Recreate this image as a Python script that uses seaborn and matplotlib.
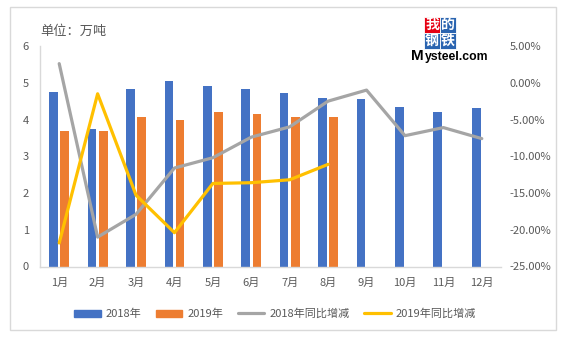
import matplotlib
matplotlib.use("Agg")
import matplotlib.pyplot as plt
import matplotlib.patches as mpatches
from matplotlib.lines import Line2D
from matplotlib.ticker import FuncFormatter, MultipleLocator
import seaborn as sns
import pandas as pd
import numpy as np

# ---- data ----
months = ["1月", "2月", "3月", "4月", "5月", "6月", "7月", "8月", "9月", "10月", "11月", "12月"]
prod_2018 = [4.74, 3.74, 4.82, 5.04, 4.90, 4.82, 4.71, 4.59, 4.55, 4.33, 4.20, 4.31]
prod_2019 = [3.70, 3.70, 4.07, 4.00, 4.21, 4.16, 4.08, 4.08]
yoy_2018 = [2.6, -21.0, -17.9, -11.6, -10.2, -7.4, -6.0, -2.5, -1.0, -7.2, -6.1, -7.6]
yoy_2019 = [-21.8, -1.5, -15.3, -20.4, -13.7, -13.6, -13.2, -11.1]
series_names = ["2018年", "2019年", "2018年同比增减", "2019年同比增减"]
title_text = "单位：万吨"

C_BLUE = "#4472c4"
C_ORANGE = "#ed7d31"
C_GRAY = "#a5a5a5"
C_YELLOW = "#ffc000"
C_TEXT = "#595959"

sns.set_theme(style="white")
plt.rcParams["font.family"] = ["Noto Sans CJK SC", "DejaVu Sans"]

rows = []
for m, v in zip(months, prod_2018):
    rows.append({"month": m, "year": series_names[0], "value": v})
for m, v in zip(months, prod_2019):
    rows.append({"month": m, "year": series_names[1], "value": v})
df = pd.DataFrame(rows)

W, H = 567, 339
fig = plt.figure(figsize=(W / 100, H / 100), dpi=100)
ax = fig.add_axes([40 / W, 1 - 266.5 / H, (501 - 40) / W, (266.5 - 46) / H])

sns.barplot(data=df, x="month", y="value", hue="year", order=months,
            hue_order=series_names[:2], palette=[C_BLUE, C_ORANGE],
            width=0.58, gap=0.22, ax=ax, legend=False, saturation=1, linewidth=0)

ax.set_ylim(0, 6)
ax.set_xlim(-0.5, 11.5)
ax.yaxis.set_major_locator(MultipleLocator(1))
ax.set_xlabel("")
ax.set_ylabel("")
for s in ["top", "right"]:
    ax.spines[s].set_visible(False)
for s in ["left", "bottom"]:
    ax.spines[s].set_color("#d9d9d9")
    ax.spines[s].set_linewidth(1)
ax.tick_params(axis="both", length=0, labelsize=8, labelcolor=C_TEXT)
ax.tick_params(axis="y", pad=8)
ax.tick_params(axis="x", pad=8)

ax2 = ax.twinx()
x18 = np.arange(len(yoy_2018))
x19 = np.arange(len(yoy_2019))
sns.lineplot(x=x18, y=yoy_2018, color=C_GRAY, linewidth=2.3, ax=ax2)
sns.lineplot(x=x19, y=yoy_2019, color=C_YELLOW, linewidth=2.3, ax=ax2)
ax2.set_ylim(-25, 5)
ax2.set_xlim(-0.5, 11.5)
ax2.yaxis.set_major_locator(MultipleLocator(5))
ax2.yaxis.set_major_formatter(FuncFormatter(lambda v, p: f"{v:.2f}%"))
for s in ax2.spines.values():
    s.set_visible(False)
ax2.tick_params(axis="y", length=0, labelsize=8, labelcolor=C_TEXT, pad=6)
ax2.grid(False)
ax.grid(False)

# title
fig.text(40 / W, 1 - 31 / H, title_text, fontsize=9.5, color=C_TEXT, ha="left", va="center")

# legend
handles = [
    mpatches.Patch(color=C_BLUE),
    mpatches.Patch(color=C_ORANGE),
    Line2D([0], [0], color=C_GRAY, linewidth=2.3),
    Line2D([0], [0], color=C_YELLOW, linewidth=2.3),
]
leg = fig.legend(handles, series_names, loc="center", bbox_to_anchor=(275 / W, 1 - 314 / H),
                 ncol=4, frameon=False, fontsize=8, handlelength=2.4, handletextpad=0.45,
                 columnspacing=1.3)
for t in leg.get_texts():
    t.set_color(C_TEXT)

# outer border
fig.patches.append(mpatches.Rectangle((10 / W, 1 - 330 / H), (556 - 10) / W, (330 - 7) / H,
                                      transform=fig.transFigure, fill=False,
                                      edgecolor="#d9d9d9", linewidth=1))

# logo
bs = 16
x0, y0 = 424, 17
logo_chars = [("我", "#e60012", x0, y0), ("的", "#2a64b0", x0 + bs, y0),
              ("钢", "#2a64b0", x0, y0 + bs), ("铁", "#2a64b0", x0 + bs, y0 + bs)]
for ch, col, lx, ly in logo_chars:
    fig.patches.append(mpatches.Rectangle((lx / W, 1 - (ly + bs) / H), bs / W, bs / H,
                                          transform=fig.transFigure, facecolor=col,
                                          edgecolor="white", linewidth=0.6))
    fig.text((lx + bs / 2) / W, 1 - (ly + bs / 2) / H, ch, color="white", fontsize=10,
             ha="center", va="center", fontweight="bold")
fig.text(411 / W, 1 - 60 / H, "M", fontsize=11, fontweight="bold", color="black",
         ha="left", va="baseline", family="Liberation Sans")
fig.text(424.5 / W, 1 - 60 / H, "ysteel.com", fontsize=8.8, fontweight="bold", color="black",
         ha="left", va="baseline", family="Liberation Sans")

fig.savefig("out.png", dpi=100)
